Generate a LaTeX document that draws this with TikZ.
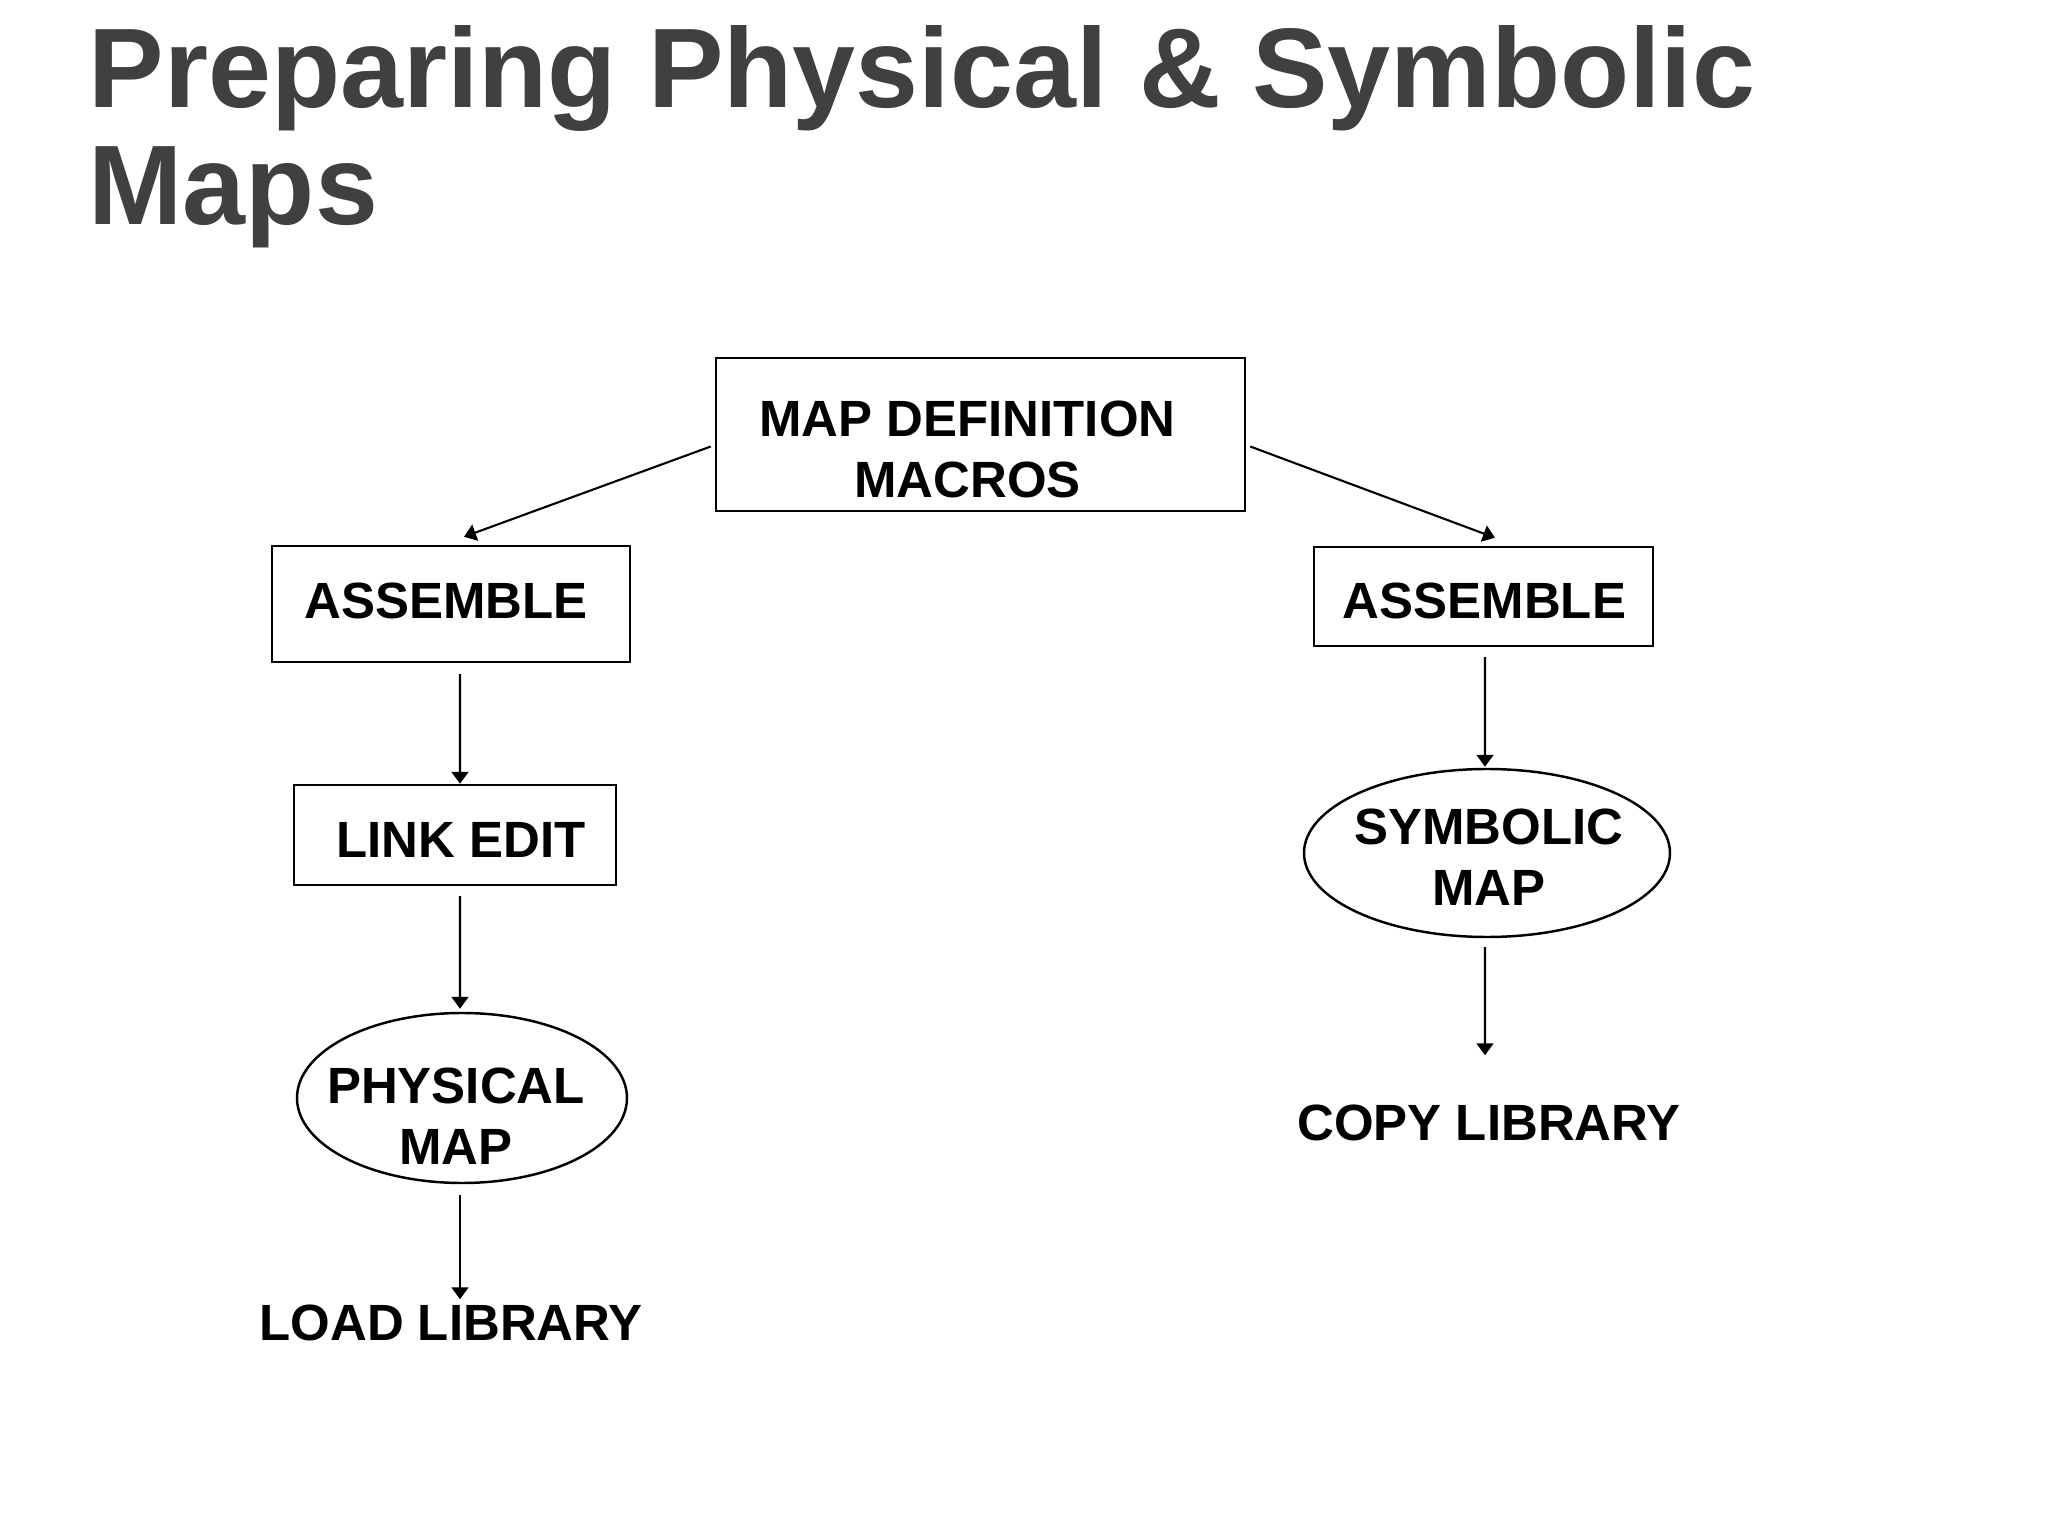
\documentclass[tikz,border=0pt]{standalone}
\usepackage{fontspec}
\setmainfont{Liberation Sans}
\usepackage{xcolor}
\usepackage{tikz}
\usetikzlibrary{arrows.meta}
\usetikzlibrary{shapes.geometric}
\definecolor{titlegray}{RGB}{64,64,64}
\tikzset{
    tnode/.style = {align=center, inner sep=0pt, text centered, font=\fontsize{14.5}{17.4}\selectfont\bfseries},
    mbox/.style = {tnode, rectangle, draw=black, line width=0.7pt},
    oval/.style = {tnode, ellipse, draw=black, line width=0.7pt},
    flow/.style = {-{Triangle[length=3.4pt, width=4.8pt]}, line width=0.6pt}
}

\begin{document}
\begin{tikzpicture}
            \useasboundingbox (0,0) rectangle (20.48,-15.36);
            \node [anchor=north west, align=left, inner sep=0pt, text=titlegray,
                font=\fontsize{32.2}{33.2}\selectfont\bfseries] (title) at (0.88,-0.25)
                {Preparing Physical \& Symbolic\\Maps};
            \node [mbox, minimum width=5.29cm, minimum height=1.53cm,
                label={[tnode, xshift=-0.13cm, yshift=-0.15cm]center:{MAP DEFINITION\\MACROS}}] (defn) at (9.805,-4.345) {};
            \node [mbox, minimum width=3.58cm, minimum height=1.16cm,
                label={[tnode, xshift=-0.05cm, yshift=0.03cm]center:ASSEMBLE}] (asmL) at (4.51,-6.04) {};
            \node [mbox, minimum width=3.39cm, minimum height=0.99cm,
                label={[tnode, xshift=0.01cm, yshift=-0.04cm]center:ASSEMBLE}] (asmR) at (14.835,-5.965) {};
            \node [mbox, minimum width=3.22cm, minimum height=1.00cm,
                label={[tnode, xshift=0.06cm, yshift=-0.05cm]center:LINK EDIT}] (link) at (4.55,-8.35) {};
            \node [oval, minimum width=3.30cm, minimum height=1.70cm,
                label={[tnode, xshift=-0.06cm, yshift=-0.18cm]center:{PHYSICAL\\MAP}}] (phys) at (4.62,-10.98) {};
            \node [oval, minimum width=3.66cm, minimum height=1.68cm,
                label={[tnode, xshift=0.02cm, yshift=-0.04cm]center:{SYMBOLIC\\MAP}}] (symb) at (14.87,-8.53) {};
            \node [tnode] (load) at (4.51,-13.23) {LOAD LIBRARY};
            \node [tnode] (copy) at (14.89,-11.23) {COPY LIBRARY};
            \draw [flow] ([xshift=-0.04cm, yshift=-0.12cm]defn.west) -- ([xshift=0.13cm, yshift=0.08cm]asmL.north);
            \draw [flow] ([xshift=0.04cm, yshift=-0.12cm]defn.east) -- ([xshift=0.115cm, yshift=0.08cm]asmR.north);
            \draw [flow] ([xshift=0.09cm, yshift=-0.11cm]asmL.south) -- ([xshift=0.05cm]link.north);
            \draw [flow] ([xshift=0.05cm, yshift=-0.10cm]link.south) -- ([xshift=-0.02cm, yshift=0.03cm]phys.north);
            \draw [flow] ([xshift=-0.02cm, yshift=-0.11cm]phys.south) -- ([xshift=0.09cm, yshift=0.05cm]load.north);
            \draw [flow] ([xshift=0.015cm, yshift=-0.10cm]asmR.south) -- ([xshift=-0.02cm, yshift=0.01cm]symb.north);
            \draw [flow] ([xshift=-0.02cm, yshift=-0.09cm]symb.south) -- ([xshift=-0.04cm, yshift=0.49cm]copy.north);
        \end{tikzpicture}
\end{document}
